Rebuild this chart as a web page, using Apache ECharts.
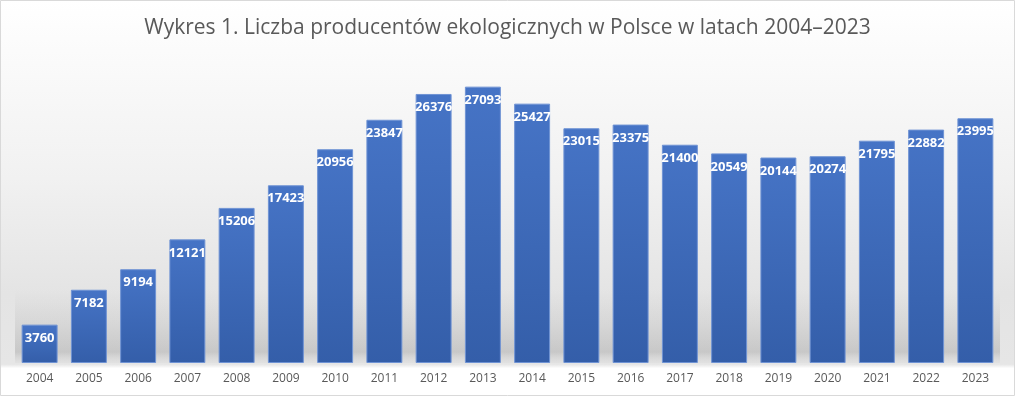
<!DOCTYPE html>
<html><head><meta charset="utf-8">
<script src="https://cdn.jsdelivr.net/npm/echarts@6/dist/echarts.min.js"></script>
<style>html,body{margin:0;padding:0;background:#fff}#c{width:1015px;height:396px}</style>
</head><body><div id="c"></div>
<script>
const years = ['2004','2005','2006','2007','2008','2009','2010','2011','2012','2013','2014','2015','2016','2017','2018','2019','2020','2021','2022','2023'];
const producers = [3760,7182,9194,12121,15206,17423,20956,23847,26376,27093,25427,23015,23375,21400,20549,20144,20274,21795,22882,23995];
const titleText = 'Wykres 1. Liczba producentów ekologicznych w Polsce w latach 2004–2023';

const chart = echarts.init(document.getElementById('c'));
chart.setOption({
  animation: false,
  backgroundColor: {
    type: 'linear', x: 0, y: 0, x2: 0, y2: 1,
    colorStops: [
      {offset: 0, color: '#ffffff'},
      {offset: 0.45, color: '#f1f1f1'},
      {offset: 0.74, color: '#e4e4e4'},
      {offset: 0.92, color: '#e6e6e6'},
      {offset: 0.93, color: '#ffffff'},
      {offset: 1, color: '#ffffff'}
    ]
  },
  graphic: [
    {type: 'rect', z: -1, silent: true,
     shape: {x: 15, y: 290, width: 985, height: 73},
     style: {fill: {type: 'linear', x: 0, y: 0, x2: 0, y2: 1, colorStops: [
       {offset: 0, color: 'rgba(190,190,190,0)'},
       {offset: 0.6, color: 'rgba(180,180,180,0.4)'},
       {offset: 0.85, color: 'rgba(170,170,170,0.5)'},
       {offset: 1, color: 'rgba(215,215,215,0.3)'}]}}},
    {type: 'rect', z: 100, silent: true,
     shape: {x: 0.5, y: 0.5, width: 1014, height: 395},
     style: {fill: 'none', stroke: '#d9d9d9', lineWidth: 1}}
  ],
  title: {
    text: titleText, left: 'center', top: 13,
    textStyle: {fontFamily: 'Open Sans', fontSize: 21, fontWeight: 'normal', color: '#595959'}
  },
  grid: {left: 15, right: 15, top: 57, bottom: 33, containLabel: false},
  xAxis: {
    type: 'category', data: years,
    axisLine: {show: false}, axisTick: {show: false},
    axisLabel: {color: '#595959', fontSize: 12, fontFamily: 'Open Sans', margin: 10}
  },
  yAxis: {type: 'value', min: 0, max: 30000, show: false, splitLine: {show: false}},
  series: [{
    type: 'bar', data: producers, barCategoryGap: '27%',
    itemStyle: {
      color: {type: 'linear', x: 0, y: 0, x2: 0, y2: 1, colorStops: [
        {offset: 0, color: '#4674c6'}, {offset: 1, color: '#345ea9'}]},
      borderColor: '#6f93d4', borderWidth: 1
    },
    label: {
      show: true, position: 'insideTop', distance: 7,
      color: '#ffffff', fontWeight: 'bold', fontSize: 13, fontFamily: 'Open Sans'
    }
  }]
});
</script></body></html>
